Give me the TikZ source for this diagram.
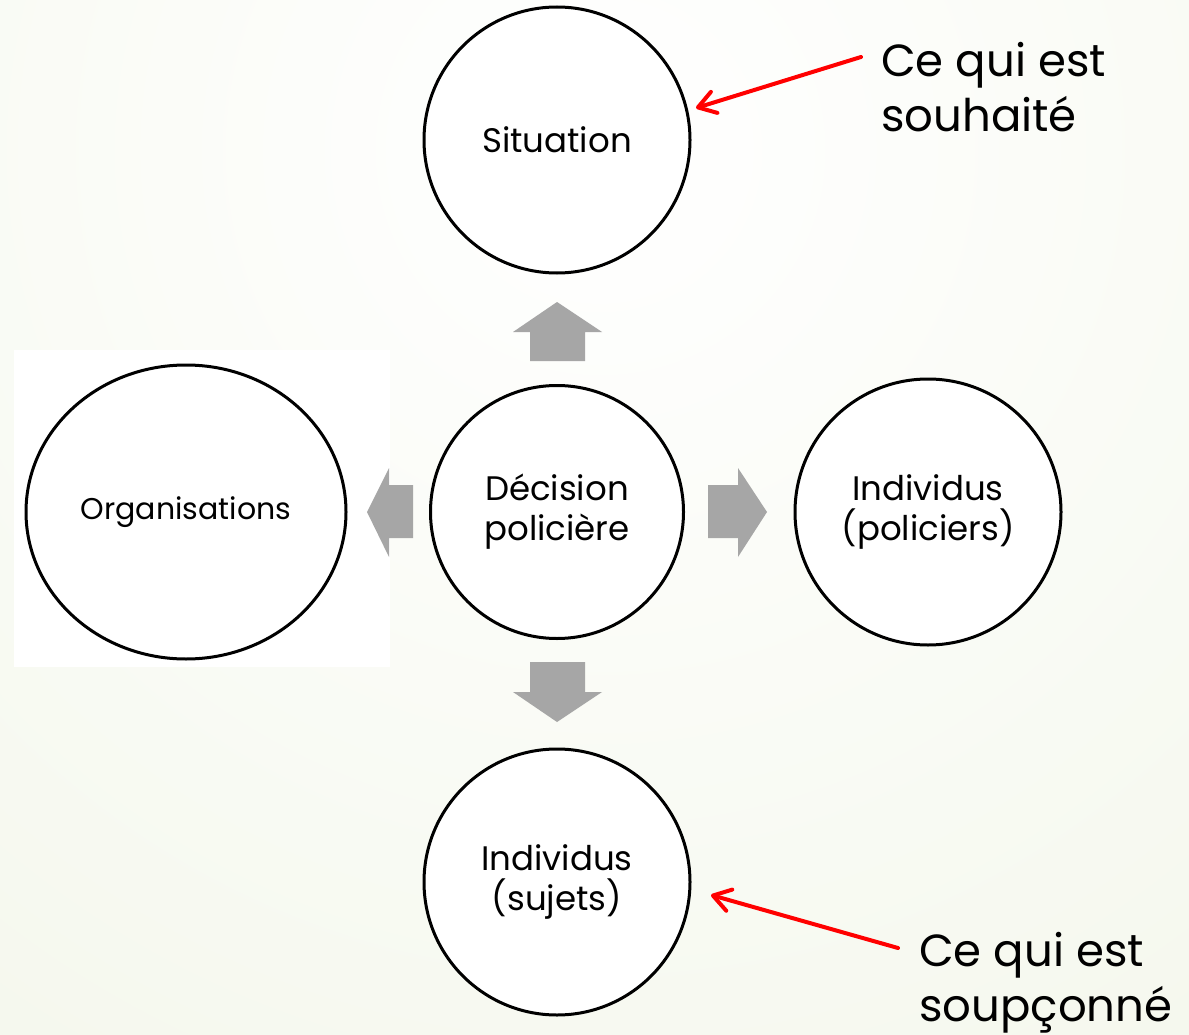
\documentclass[tikz,border=0pt]{standalone}
\usepackage{fontspec}
\setmainfont{Poppins}
\usetikzlibrary{arrows.meta,shapes.geometric}
\definecolor{bgedge}{HTML}{E6EDD3}
\definecolor{blockgray}{HTML}{A6A6A6}
\definecolor{redarrow}{HTML}{FF0000}
\tikzset{
  bubble/.style={circle, draw=black, line width=3pt, fill=white, inner sep=0pt, align=center, font=\fontsize{34}{40}\selectfont},
  blockarrow/.style={fill=blockgray, draw=none},
  callout/.style={anchor=base west, align=left, font=\fontsize{45}{55}\selectfont, inner sep=0pt},
  pointer/.style={draw=redarrow, line width=4pt, line cap=round, -{Straight Barb[length=17pt, width=22pt, line cap=round, line join=round]}}
}
\begin{document}
\begin{tikzpicture}[x=1pt,y=-1pt]
\useasboundingbox (0,0) rectangle (1189,1035);
\begin{scope}
\clip (0,0) rectangle (1189,1035);
\shade[inner color=white, outer color=bgedge] (600,150) circle[radius=2700];
\end{scope}
\fill[white] (14,350) rectangle (390,667);
% bubbles
\node[bubble, minimum size=266pt] (sit) at (557,140) {Situation};
\node[bubble, minimum size=253pt] (dec) at (557,512) {Décision\\policière};
\node[bubble, minimum size=266pt] (pol) at (928,512) {Individus\\(policiers)};
\node[bubble, ellipse, minimum width=320pt, minimum height=294pt, font=\fontsize{30}{36}\selectfont] (org) at (186,512) {Organisations};
\node[bubble, minimum size=266pt] (suj) at (557,882) {Individus\\(sujets)};
% gray block arrows
\fill[blockarrow] (530,361) -- (530,332) -- (513,332) -- (557,302) -- (602,332) -- (585,332) -- (585,361) -- cycle;
\fill[blockarrow] (530,662) -- (530,692) -- (513,692) -- (557,722) -- (602,692) -- (585,692) -- (585,662) -- cycle;
\fill[blockarrow] (413,485) -- (389,485) -- (389,468) -- (367,512) -- (389,557) -- (389,538) -- (413,538) -- cycle;
\fill[blockarrow] (708,485) -- (738,485) -- (738,468) -- (767,512) -- (738,557) -- (738,538) -- (708,538) -- cycle;
% callouts
\node[callout] (souh) at (881,132) {Ce qui est\\souhaité};
\node[callout] (soup) at (919,1021) {Ce qui est\\soupçonné};
\coordinate (souhstart) at (861,57);
\coordinate (souhtip) at (696,108);
\coordinate (soupstart) at (898,948);
\coordinate (souptip) at (711,895);
\draw[pointer] (souhstart) -- (souhtip);
\draw[pointer] (soupstart) -- (souptip);
\end{tikzpicture}
\end{document}
